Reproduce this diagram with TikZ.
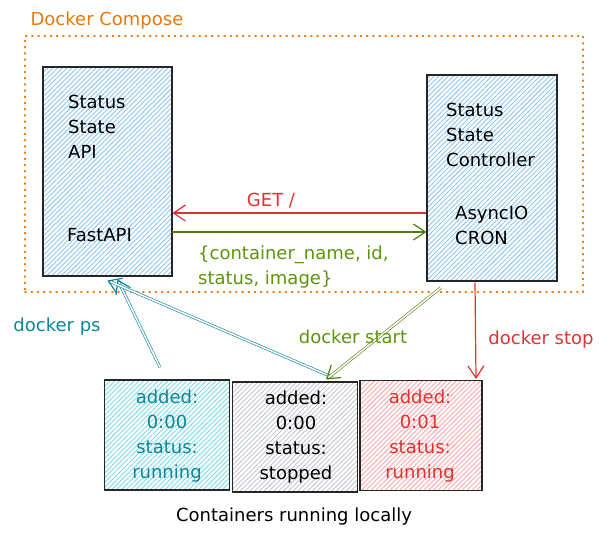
\documentclass[tikz,border=0pt]{standalone}
\usepackage{fontspec}
\setmainfont{DejaVu Sans}
\usetikzlibrary{arrows.meta,patterns.meta}
\definecolor{hblue}{HTML}{8CC6F6}
\definecolor{hcyan}{HTML}{7EDCE8}
\definecolor{hgray}{HTML}{C2C7CD}
\definecolor{hred}{HTML}{FFA8A8}
\definecolor{tteal}{HTML}{0C8599}
\definecolor{tred}{HTML}{E03131}
\definecolor{tgreen}{HTML}{5C940D}
\definecolor{torange}{HTML}{E8790A}
\tikzset{
  txt/.style={font=\fontsize{18}{25}\selectfont, inner sep=0pt},
  hatchbox/.style={draw=black!85, line width=1.1pt, inner sep=0pt,
    pattern={Lines[angle=45,distance=3.4pt,line width=0.9pt]}, pattern color=#1},
  smallbox/.style={hatchbox=#1, minimum width=125pt, minimum height=110pt},
  arr/.style={draw=#1, line width=1.2pt, -{Straight Barb[length=12pt,width=16pt,line width=1.2pt]}},
  darr/.style={draw=#1, line width=0.6pt, double=white, double distance=1.6pt,
    -{Straight Barb[length=12pt,width=16pt,line width=1.2pt]}},
  dotbox/.style={draw=torange, line width=1.2pt, dash pattern=on 1.2pt off 5pt, line cap=round}
}
\begin{document}
\begin{tikzpicture}[x=1pt,y=-1pt]
\useasboundingbox (0,0) rectangle (609,539);
% compose frame
\node[dotbox, minimum width=558pt, minimum height=256pt] (compose) at (304,164) {};
\node[txt, text=torange] (composelbl) at (107,21) {Docker Compose};
% main boxes
\node[hatchbox=hblue, minimum width=129pt, minimum height=209pt] (api) at (107.5,171.5) {};
\node[hatchbox=hblue, minimum width=130pt, minimum height=206pt] (ctrl) at (492,178) {};
\node[txt, anchor=north west, align=left] (apitxt) at (68,95) {Status\\State\\API};
\node[txt, anchor=north west] (fastapi) at (67,228) {FastAPI};
\node[txt, anchor=north west, align=left] (ctrltxt) at (446,103) {Status\\State\\Controller};
\node[txt, anchor=north west, align=left] (asynctxt) at (455,206) {AsyncIO\\CRON};
% container boxes
\node[smallbox=hcyan] (c1) at (167,435) {};
\node[smallbox=hgray] (c2) at (295,437) {};
\node[smallbox=hred, minimum width=122pt] (c3) at (421,435.5) {};
\node[txt, text=tteal, align=center] (c1txt) at (167,436) {added:\\0:00\\status:\\running};
\node[txt, text=black, align=center] (c2txt) at (296,437) {added:\\0:00\\status:\\stopped};
\node[txt, text=tred, align=center] (c3txt) at (420,436) {added:\\0:01\\status:\\running};
\node[txt] (localtxt) at (294,517) {Containers running locally};
% horizontal arrows
\draw[arr=tred] ([yshift=-35pt]ctrl.west) -- ([yshift=-41.5pt]api.east);
\node[txt, text=tred] (getlbl) at (271,201) {GET /};
\draw[arr=tgreen!85!black] ([yshift=-60.5pt]api.east) -- ([yshift=-54pt]ctrl.west);
\node[txt, text=tgreen, anchor=north west, align=left] (jsonlbl) at (198,246) {\{container\_name, id,\\status, image\}};
% docker ps
\draw[darr=tteal] ([xshift=-7pt,yshift=12pt]c1.north) -- ([xshift=10pt,yshift=-3pt]api.south);
\draw[darr=tteal] ([xshift=38pt,yshift=4pt]c2.north) -- ([xshift=0pt,yshift=-4pt]api.south);
\node[txt, text=tteal] (pslbl) at (57,327) {docker ps};
% docker start
\draw[darr=tgreen!85!black] ([xshift=-51pt,yshift=-6pt]ctrl.south) -- ([xshift=31pt,yshift=2pt]c2.north);
\node[txt, text=tgreen] (startlbl) at (353,337) {docker start};
% docker stop
\draw[arr=tred] ([xshift=-17pt,yshift=-1pt]ctrl.south) -- ([xshift=55pt,yshift=1pt]c3.north);
\node[txt, text=tred] (stoplbl) at (541,340) {docker stop};
\end{tikzpicture}
\end{document}
